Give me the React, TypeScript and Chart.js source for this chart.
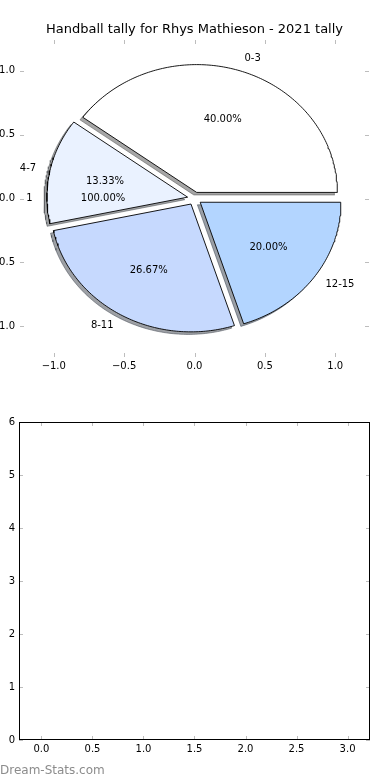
import React, { useEffect, useRef } from 'react';
import { Chart, registerables } from 'chart.js';

Chart.register(...registerables);

const TITLE = 'Handball tally for Rhys Mathieson - 2021 tally';
const WATERMARK = 'Dream-Stats.com';
const categories = ['0-3', '4-7', '8-11', '12-15'];
const values = [6, 2, 4, 3];
const sliceColors = ['#ffffff', '#eaf2ff', '#c6d9fe', '#b3d5ff'];
const extraCategories = ['1'];
const extraValues = [1];
const pieTicks = [-1, -0.5, 0, 0.5, 1];
const lowerXTicks = [0, 0.5, 1, 1.5, 2, 2.5, 3];
const lowerYTicks = [0, 1, 2, 3, 4, 5, 6];

const EXPLODE = 0.05;
const FONT = "'DejaVu Sans', sans-serif";

type Pt = { x: number; y: number };

function wedgePoints(cx: number, cy: number, t1: number, t2: number, dx = 0, dy = 0): Pt[] {
  const pts: Pt[] = [{ x: cx + dx, y: cy + dy }];
  const n = Math.max(4, Math.ceil(t2 - t1));
  for (let i = 0; i <= n; i++) {
    const a = ((t1 + ((t2 - t1) * i) / n) * Math.PI) / 180;
    pts.push({ x: cx + dx + Math.cos(a), y: cy + dy + Math.sin(a) });
  }
  pts.push({ x: cx + dx, y: cy + dy });
  return pts;
}

function shadowColor(hex: string) {
  const r = parseInt(hex.slice(1, 3), 16);
  const g = parseInt(hex.slice(3, 5), 16);
  const b = parseInt(hex.slice(5, 7), 16);
  return `rgba(${Math.round(r * 0.3)},${Math.round(g * 0.3)},${Math.round(b * 0.3)},0.5)`;
}

function fmt1(v: number) {
  return (v < 0 ? '\u2212' : '') + Math.abs(v).toFixed(1);
}

const inwardTicks = {
  id: 'inwardTicks',
  afterDraw(chart: any, _args: any, opts: any) {
    const { ctx, chartArea: a, scales } = chart;
    const len = 4;
    ctx.save();
    ctx.strokeStyle = '#bdbdbd';
    ctx.lineWidth = 1;
    ctx.beginPath();
    scales.x.ticks.forEach((t: any) => {
      const px = Math.round(scales.x.getPixelForValue(t.value)) + 0.5;
      ctx.moveTo(px, a.bottom);
      ctx.lineTo(px, a.bottom - len);
      ctx.moveTo(px, a.top);
      ctx.lineTo(px, a.top + len);
    });
    scales.y.ticks.forEach((t: any) => {
      const py = Math.round(scales.y.getPixelForValue(t.value)) + 0.5;
      ctx.moveTo(a.left, py);
      ctx.lineTo(a.left + len, py);
      ctx.moveTo(a.right, py);
      ctx.lineTo(a.right - len, py);
    });
    ctx.stroke();
    if (opts && opts.frame) {
      ctx.strokeStyle = '#000000';
      ctx.lineWidth = 1;
      ctx.strokeRect(Math.round(a.left) + 0.5, Math.round(a.top) + 0.5, Math.round(a.right - a.left) - 1, Math.round(a.bottom - a.top) - 1);
    }
    ctx.restore();
  },
};

const pieLabels = {
  id: 'pieLabels',
  afterDatasetsDraw(chart: any) {
    const { ctx, scales, chartArea: a } = chart;
    const sx = scales.x;
    const sy = scales.y;
    ctx.save();
    ctx.fillStyle = '#000000';
    ctx.textBaseline = 'middle';
    ctx.font = `10px ${FONT}`;
    const drawSet = (cats: string[], vals: number[]) => {
      const total = vals.reduce((s, v) => s + v, 0);
      let acc = 0;
      cats.forEach((c, i) => {
        const t1 = (360 * acc) / total;
        acc += vals[i];
        const t2 = (360 * acc) / total;
        const m = (((t1 + t2) / 2) * Math.PI) / 180;
        const cx = EXPLODE * Math.cos(m);
        const cy = EXPLODE * Math.sin(m);
        const lx = cx + 1.1 * Math.cos(m);
        const ly = cy + 1.1 * Math.sin(m);
        ctx.textAlign = lx > 0 ? 'left' : 'right';
        ctx.fillText(c, sx.getPixelForValue(lx), sy.getPixelForValue(ly));
        const px = cx + 0.6 * Math.cos(m);
        const py = cy + 0.6 * Math.sin(m);
        ctx.textAlign = 'center';
        ctx.fillText(((100 * vals[i]) / total).toFixed(2) + '%', sx.getPixelForValue(px), sy.getPixelForValue(py));
      });
    };
    drawSet(categories, values);
    drawSet(extraCategories, extraValues);
    ctx.font = `13px ${FONT}`;
    ctx.textAlign = 'center';
    ctx.fillText(TITLE, (a.left + a.right) / 2, 30);
    ctx.restore();
  },
};

const watermark = {
  id: 'watermark',
  afterDraw(chart: any) {
    const { ctx } = chart;
    ctx.save();
    ctx.fillStyle = '#8c8c8c';
    ctx.font = `12px ${FONT}`;
    ctx.textAlign = 'left';
    ctx.textBaseline = 'alphabetic';
    ctx.fillText(WATERMARK, 0, 384);
    ctx.restore();
  },
};

function buildPieDatasets() {
  const total = values.reduce((s, v) => s + v, 0);
  const shadows: any[] = [];
  const wedges: any[] = [];
  let acc = 0;
  categories.forEach((c, i) => {
    const t1 = (360 * acc) / total;
    acc += values[i];
    const t2 = (360 * acc) / total;
    const m = (((t1 + t2) / 2) * Math.PI) / 180;
    const cx = EXPLODE * Math.cos(m);
    const cy = EXPLODE * Math.sin(m);
    shadows.push({
      label: c + ' shadow',
      data: wedgePoints(cx, cy, t1, t2, -0.02, -0.02),
      showLine: true,
      fill: 'shape',
      backgroundColor: shadowColor(sliceColors[i]),
      borderColor: shadowColor(sliceColors[i]),
      borderWidth: 1,
      pointRadius: 0,
      tension: 0,
      order: 10,
    });
    wedges.push({
      label: c,
      data: wedgePoints(cx, cy, t1, t2),
      showLine: true,
      fill: 'shape',
      backgroundColor: sliceColors[i],
      borderColor: '#000000',
      borderWidth: 0.9,
      pointRadius: 0,
      tension: 0,
      order: 1,
    });
  });
  return [...wedges, ...shadows];
}

const tickFont = { family: FONT, size: 10 };

export default function App() {
  const topRef = useRef<HTMLCanvasElement>(null);
  const bottomRef = useRef<HTMLCanvasElement>(null);

  useEffect(() => {
    const top = new Chart(topRef.current as HTMLCanvasElement, {
      type: 'scatter',
      data: { datasets: buildPieDatasets() },
      options: {
        animation: false,
        responsive: false,
        devicePixelRatio: 1,
        layout: { padding: { top: 40, right: 21, left: 0, bottom: 0 } },
        plugins: { legend: { display: false }, tooltip: { enabled: false }, title: { display: false }, inwardTicks: { frame: false } } as any,
        scales: {
          x: {
            type: 'linear',
            min: -1.24,
            max: 1.24,
            grid: { display: false, drawTicks: false },
            border: { display: false },
            afterBuildTicks: (s: any) => { s.ticks = pieTicks.map((v) => ({ value: v })); },
            afterFit: (s: any) => { s.height = 23; },
            ticks: { color: '#000', font: tickFont, padding: 3, maxRotation: 0, autoSkip: false, callback: (v: any) => fmt1(Number(v)) },
          },
          y: {
            type: 'linear',
            min: -1.24,
            max: 1.24,
            grid: { display: false, drawTicks: false },
            border: { display: false },
            afterBuildTicks: (s: any) => { s.ticks = pieTicks.map((v) => ({ value: v })); },
            afterFit: (s: any) => { s.width = 20; },
            ticks: { color: '#000', font: tickFont, padding: 5, autoSkip: false, callback: (v: any) => fmt1(Number(v)) },
          },
        },
      },
      plugins: [inwardTicks, pieLabels],
    });

    const bottom = new Chart(bottomRef.current as HTMLCanvasElement, {
      type: 'scatter',
      data: { datasets: [{ label: 'empty', data: [] as Pt[] }] },
      options: {
        animation: false,
        responsive: false,
        devicePixelRatio: 1,
        layout: { padding: { top: 32, right: 20, left: 0, bottom: 0 } },
        plugins: { legend: { display: false }, tooltip: { enabled: false }, inwardTicks: { frame: true } } as any,
        scales: {
          x: {
            type: 'linear',
            min: -0.22,
            max: 3.22,
            grid: { display: false, drawTicks: false },
            border: { display: false },
            afterBuildTicks: (s: any) => { s.ticks = lowerXTicks.map((v) => ({ value: v })); },
            afterFit: (s: any) => { s.height = 40; },
            ticks: { color: '#000', font: tickFont, padding: 3, maxRotation: 0, autoSkip: false, callback: (v: any) => fmt1(Number(v)) },
          },
          y: {
            type: 'linear',
            min: 0,
            max: 6,
            grid: { display: false, drawTicks: false },
            border: { display: false },
            afterBuildTicks: (s: any) => { s.ticks = lowerYTicks.map((v) => ({ value: v })); },
            afterFit: (s: any) => { s.width = 19; },
            ticks: { color: '#000', font: tickFont, padding: 4, autoSkip: false, callback: (v: any) => String(v) },
          },
        },
      },
      plugins: [inwardTicks, watermark],
    });

    return () => {
      top.destroy();
      bottom.destroy();
    };
  }, []);

  return (
    <div style={{ position: 'absolute', left: 0, top: 0, width: 390, height: 780, background: '#ffffff' }}>
      <canvas ref={topRef} width={390} height={380} style={{ position: 'absolute', left: 0, top: 0, width: 390, height: 380 }} />
      <canvas ref={bottomRef} width={390} height={390} style={{ position: 'absolute', left: 0, top: 390, width: 390, height: 390 }} />
    </div>
  );
}
